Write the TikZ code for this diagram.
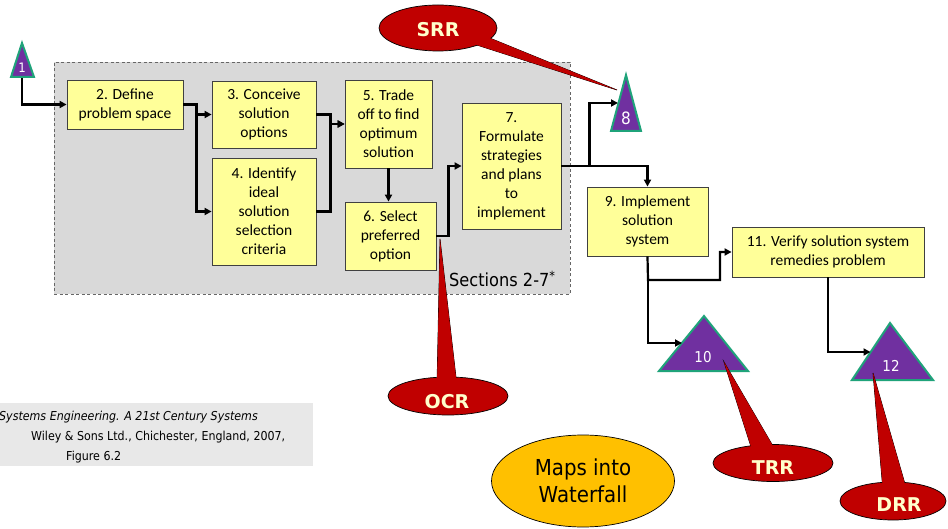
\documentclass[tikz,border=0pt]{standalone}
\usepackage{fontspec}
\setmainfont{Carlito}
\newfontfamily\tah[FakeStretch=0.9]{DejaVu Sans}
\newfontfamily\tahfull{DejaVu Sans}
\usetikzlibrary{arrows.meta,shapes.geometric,calc}
\definecolor{boxfill}{HTML}{FFFF99}
\definecolor{panelgray}{HTML}{D9D9D9}
\definecolor{purp}{HTML}{7030A0}
\definecolor{tealedge}{HTML}{1FA37A}
\definecolor{callred}{HTML}{C00000}
\definecolor{cream}{HTML}{FFFFCC}
\definecolor{goldfill}{HTML}{FFC000}
\definecolor{citegray}{HTML}{E8E8E8}
\tikzset{
  stepbox/.style={draw=black!75, line width=0.8pt, fill=boxfill, align=center, inner sep=0pt,
    font=\fontsize{15.5}{19}\selectfont},
  panelbox/.style={draw=black!60, dash pattern=on 3pt off 2.5pt, fill=panelgray, line width=0.9pt, inner sep=0pt},
  flowline/.style={line width=2.2pt, -{Triangle[length=7pt,width=7pt]}},
  plainline/.style={line width=2.2pt},
  tri/.style={fill=purp, draw=tealedge, line width=2pt, line join=miter},
  trinum/.style={text=white, inner sep=0pt, font=\tah\fontsize{15}{15}\selectfont},
  callbody/.style={ellipse, fill=callred, draw=black, line width=0.7pt, inner sep=0pt},
  callptr/.style={fill=callred, draw=black, line width=0.7pt, line join=miter},
  callfill/.style={fill=callred},
  calltext/.style={text=cream, inner sep=0pt, font=\tahfull\bfseries\fontsize{19}{19}\selectfont},
  citetext/.style={anchor=west, inner sep=0pt, font=\tah\fontsize{12.3}{14}\selectfont}
}
\begin{document}
\begin{tikzpicture}[x=1pt,y=-1pt]
\useasboundingbox (0,0) rectangle (948,529);

% citation box
\fill[citegray] (0,403) rectangle (313,466);
\node[citetext] (cite1) at (-1,417) {\itshape Systems Engineering. A 21st Century Systems};
\node[citetext] (cite2) at (31,437) {Wiley \& Sons Ltd., Chichester, England, 2007,};
\node[citetext] (cite3) at (66,457) {Figure 6.2};

% panel
\node[panelbox, minimum width=516pt, minimum height=232pt] (panel) at (312,178) {};
\node[anchor=west, inner sep=0pt, font=\tah\fontsize{18}{18}\selectfont] (sec) at (449,279) {Sections 2-7\textsuperscript{*}};

% boxes
\node[stepbox, minimum width=116pt, minimum height=49pt] (b2) at (125,104.5) {2. Define\\problem space};
\node[stepbox, minimum width=104pt, minimum height=67pt] (b3) at (264,114.5) {3. Conceive\\solution\\options};
\node[stepbox, minimum width=104pt, minimum height=107pt] (b4) at (264,211.5) {4. Identify\\ideal\\solution\\selection\\criteria};
\node[stepbox, minimum width=87pt, minimum height=88pt] (b5) at (388.5,124) {5. Trade\\off to find\\optimum\\solution};
\node[stepbox, minimum width=91pt, minimum height=68pt] (b6) at (390.5,236) {6. Select\\preferred\\option};
\node[stepbox, minimum width=99pt, minimum height=126pt] (b7) at (511.5,166) {7.\\Formulate\\strategies\\and plans\\to\\implement};
\node[stepbox, minimum width=121pt, minimum height=69pt] (b9) at (647.5,221.5) {9. Implement\\solution\\system};
\node[stepbox, minimum width=192pt, minimum height=50pt] (b11) at (828,252) {11. Verify solution system\\remedies problem};

% triangles
\draw[tri] (11,77) -- (22,43) -- (34,77) -- cycle;
\node[trinum, font=\tah\fontsize{13}{13}\selectfont] (n1) at (22,68) {1};
\coordinate (t1b) at (22,78);
\draw[tri] (611,131) -- (626,75) -- (641,131) -- cycle;
\node[trinum, font=\tah\fontsize{17}{17}\selectfont] (n8) at (626,118) {8};
\coordinate (t8in) at (618,103);
\draw[tri] (659,371) -- (704,316) -- (748,371) -- cycle;
\node[trinum] (n10) at (703,357) {10};
\coordinate (t10in) at (682,343);
\draw[tri] (852,380) -- (890,323) -- (933,380) -- cycle;
\node[trinum] (n12) at (891,366) {12};
\coordinate (t12in) at (870.5,352);

% connectors
\draw[flowline] (t1b) |- (b2.west);
\draw[flowline] (b2.east) -- ++(13,0) |- (b3.west);
\draw[flowline] (b2.east) -- ++(13,0) |- (b4.west);
\draw[flowline] (b3.east) -- ++(14,0) |- (b5.west);
\draw[flowline] (b4.east) -- ++(14,0) |- (b5.west);
\draw[flowline] (b5.south) -- (b5.south |- b6.north);
\draw[flowline] (b6.east) -- ++(12,0) |- (b7.west);
\draw[flowline] (b7.east) -- ++(28,0) |- (t8in);
\draw[flowline] (b7.east) -- (b9.north |- b7.east) -- (b9.north);
\coordinate (j9) at (648,280);
\draw[flowline] (b9.south) -- (j9) -- ++(72,0) |- (b11.west);
\draw[flowline] (j9) |- (t10in);
\draw[flowline] (b11.south) |- (t12in);

% callout SRR
\coordinate (srrA) at (455,38);
\coordinate (srrB) at (470,30);
\coordinate (srrtip) at (617,90);
\draw[callptr] (srrA) -- (srrtip) -- (srrB) -- cycle;
\node[callbody, minimum width=118pt, minimum height=46pt] (srr) at (438,28) {};
\fill[callfill] (srrA) -- (srrtip) -- (srrB) -- cycle;
\node[calltext] (srrt) at (438,30) {SRR};

% callout OCR
\coordinate (ocrA) at (437,386);
\coordinate (ocrB) at (457,386);
\coordinate (ocrtip) at (440,239);
\draw[callptr] (ocrA) -- (ocrtip) -- (ocrB) -- cycle;
\node[callbody, minimum width=120pt, minimum height=38pt] (ocr) at (448,396) {};
\fill[callfill] (ocrA) -- (ocrtip) -- (ocrB) -- cycle;
\node[calltext] (ocrt) at (447,402) {OCR};

% callout TRR
\coordinate (trrA) at (753,453);
\coordinate (trrB) at (777,453);
\coordinate (trrtip) at (724,362);
\draw[callptr] (trrA) -- (trrtip) -- (trrB) -- cycle;
\node[callbody, minimum width=120pt, minimum height=37pt] (trr) at (773,463) {};
\fill[callfill] (trrA) -- (trrtip) -- (trrB) -- cycle;
\node[calltext] (trrt) at (773,468) {TRR};

% callout DRR
\coordinate (drrA) at (883,491);
\coordinate (drrB) at (907,491);
\coordinate (drrtip) at (873,373);
\draw[callptr] (drrA) -- (drrtip) -- (drrB) -- cycle;
\node[callbody, minimum width=106pt, minimum height=38pt] (drr) at (893,501) {};
\fill[callfill] (drrA) -- (drrtip) -- (drrB) -- cycle;
\node[calltext] (drrt) at (899,505) {DRR};

% maps into waterfall
\node[ellipse, fill=goldfill, draw=black, line width=0.7pt, minimum width=183pt, minimum height=92pt,
  inner sep=0pt, align=center, font=\tah\fontsize{22}{27}\selectfont] (maps) at (583,481) {Maps into\\Waterfall};
\end{tikzpicture}
\end{document}
